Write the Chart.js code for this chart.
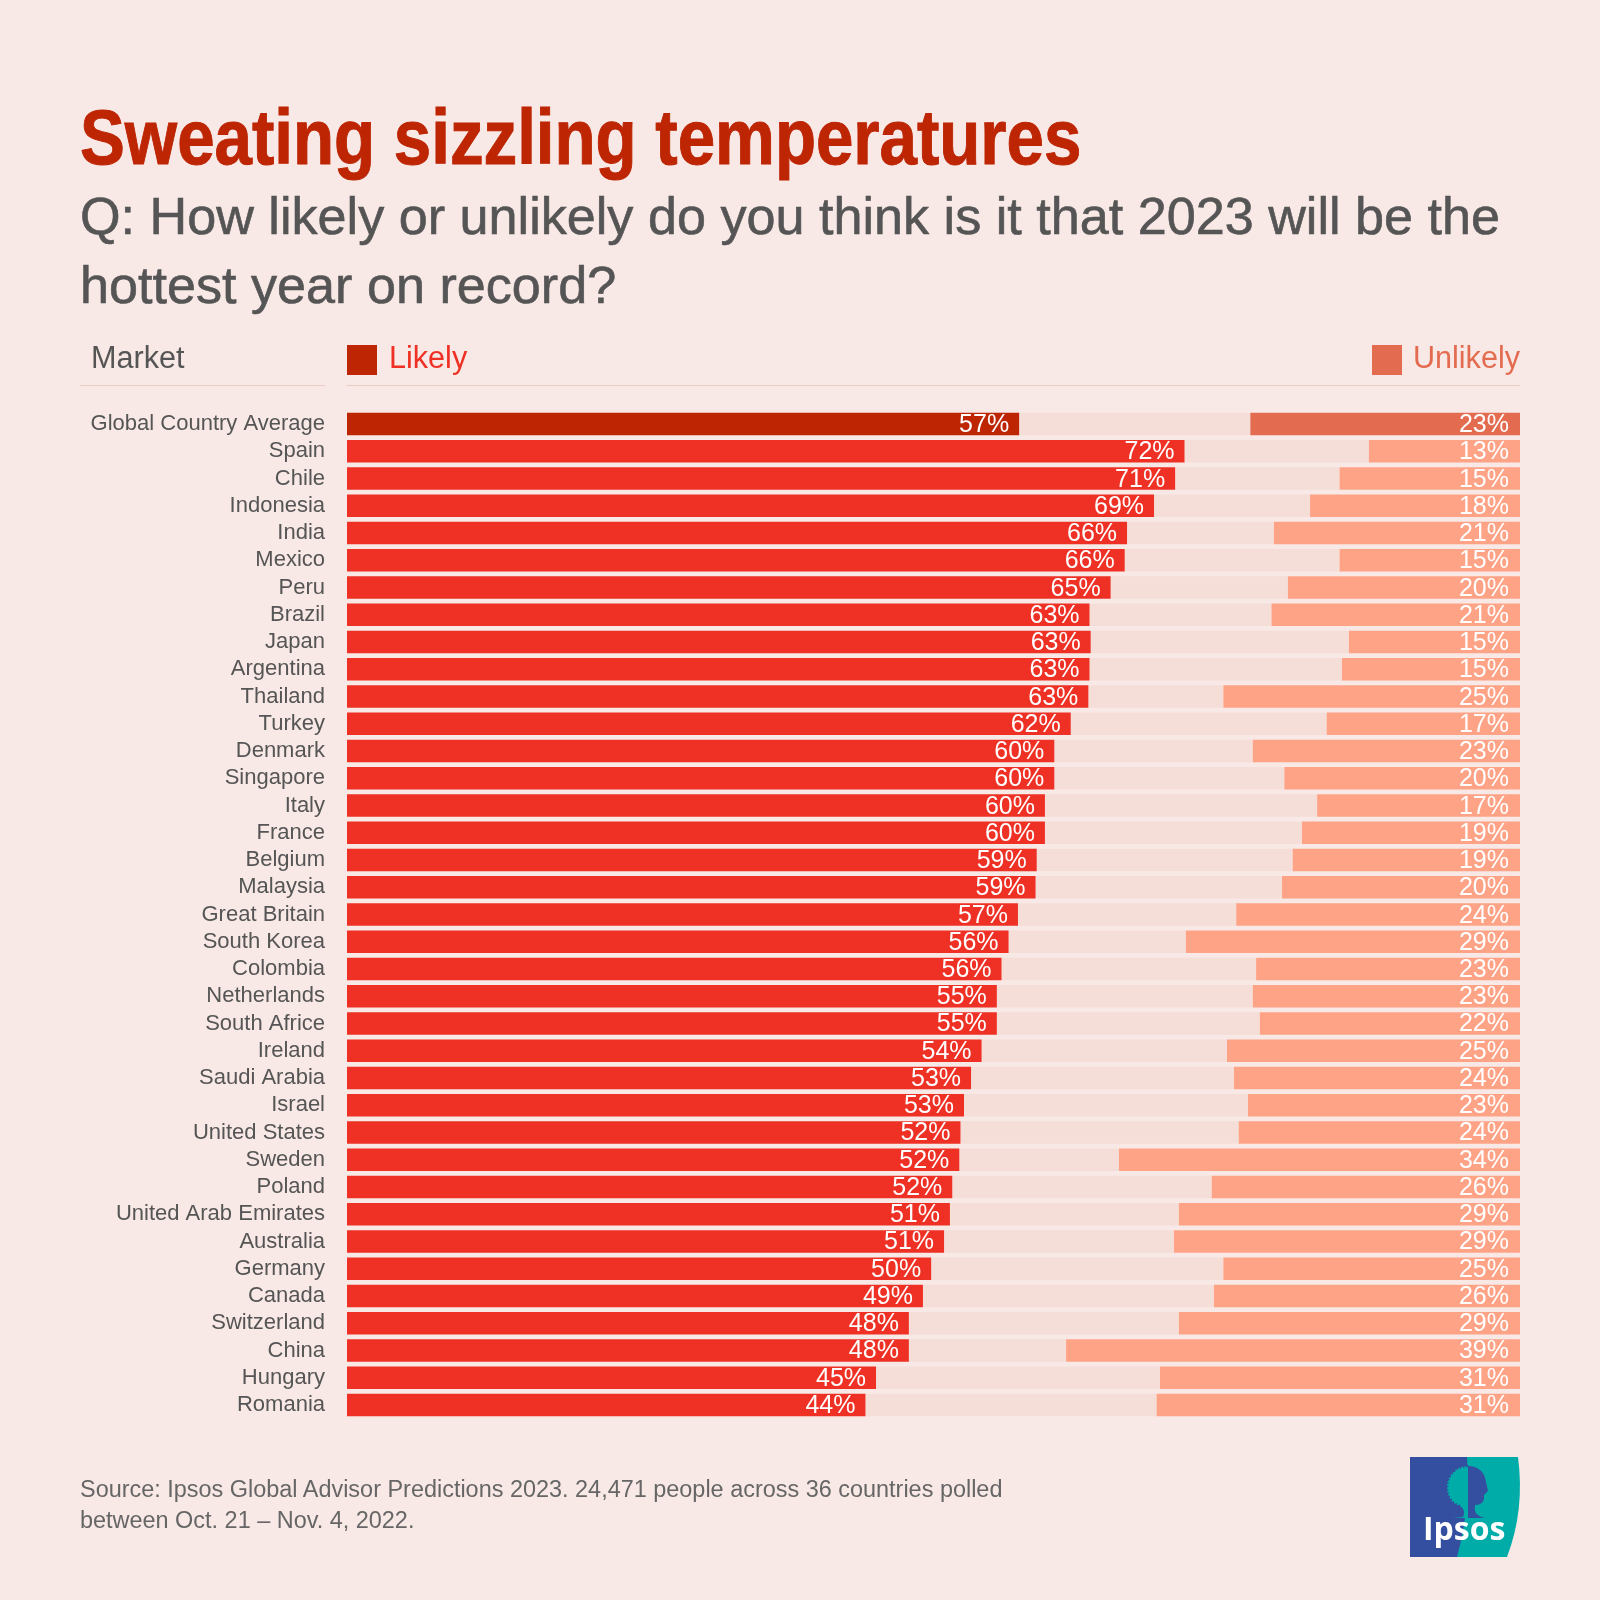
<!DOCTYPE html>
<html>
<head>
<meta charset="utf-8">
<title>Sweating sizzling temperatures</title>
<script src="https://cdn.jsdelivr.net/npm/chart.js@4"></script>
<style>
  html, body { margin: 0; padding: 0; background: #f8e9e6; }
  #page { position: relative; width: 1600px; height: 1600px; overflow: hidden; background: #f8e9e6; font-family: "Liberation Sans", sans-serif; }
  #page canvas { position: absolute; left: 0; top: 0; }
  .txt { position: absolute; white-space: nowrap; line-height: 1; }
  #title { left: 80px; top: 98px; font-weight: bold; font-size: 78px; color: #bd2503; transform: scaleX(0.862); transform-origin: left top; -webkit-text-stroke: 1px #bd2503; }
  .sub { left: 80px; font-size: 52.15px; color: #555; -webkit-text-stroke: 0.6px #555; }
  .head { font-size: 30.6px; top: 342px; }
  .rule { position: absolute; top: 385px; height: 1px; background: #edc9c4; }
  .sq { position: absolute; top: 345px; width: 30px; height: 30px; }
  .src { left: 80px; font-size: 23.45px; color: #666; }
  #logo { position: absolute; left: 1400px; top: 1450px; }
</style>
</head>
<body>
<div id="page">
  <canvas id="chart" width="1600" height="1600"></canvas>
  <div class="txt" id="title">Sweating sizzling temperatures</div>
  <div class="txt sub" style="top:190px">Q: How likely or unlikely do you think is it that 2023 will be the</div>
  <div class="txt sub" style="top:259px">hottest year on record?</div>
  <div class="txt head" style="left:91px;color:#555">Market</div>
  <div class="sq" style="left:347px;background:#bd2503"></div>
  <div class="txt head" style="left:389px;color:#ee3124">Likely</div>
  <div class="sq" style="left:1372px;background:#e36b50"></div>
  <div class="txt head" style="right:80px;color:#e36b50">Unlikely</div>
  <div class="rule" style="left:80px;width:245px"></div>
  <div class="rule" style="left:346px;width:1174px"></div>
  <div class="txt src" style="top:1478px">Source: Ipsos Global Advisor Predictions 2023. 24,471 people across 36 countries polled</div>
  <div class="txt src" style="top:1509px">between Oct. 21 – Nov. 4, 2022.</div>
  <svg id="logo" width="130" height="115" viewBox="1400 1450 130 115">
    <path d="M1410 1457H1518Q1525 1510 1507 1557H1410Z" fill="#00aca8"/>
    <path d="M1410 1457H1467Q1470 1510 1457 1557H1410Z" fill="#354fa0"/>
    <path d="M1468 1466C1454 1466 1447 1478 1447 1487C1447 1498 1453 1504 1460 1506C1464 1508 1465 1513 1463 1517L1453 1518H1468Z" fill="#00aca8"/>
    <path d="M1468 1466C1454 1466 1447 1478 1447 1487C1447 1498 1453 1504 1460 1506" fill="none" stroke="#354fa0" stroke-width="2.5" stroke-dasharray="1.5 2"/>
    <path d="M1468 1466C1478 1466 1485 1472 1486 1482L1488 1491L1484 1495C1485 1503 1480 1505 1475 1505C1474 1512 1476 1516 1485 1518H1468Z" fill="#354fa0"/>
    <text x="1423" y="1540" font-family="Open Sans" font-weight="700" font-size="32" fill="#fff">Ipsos</text>
  </svg>
</div>
<script>
const categories = ["Global Country Average","Spain","Chile","Indonesia","India","Mexico","Peru","Brazil","Japan","Argentina","Thailand","Turkey","Denmark","Singapore","Italy","France","Belgium","Malaysia","Great Britain","South Korea","Colombia","Netherlands","South Africe","Ireland","Saudi Arabia","Israel","United States","Sweden","Poland","United Arab Emirates","Australia","Germany","Canada","Switzerland","China","Hungary","Romania"];

// bar lengths
const likely = [57.3,71.4,70.6,68.8,66.5,66.3,65.1,63.3,63.4,63.3,63.2,61.7,60.3,60.3,59.5,59.5,58.8,58.7,57.2,56.4,55.8,55.4,55.4,54.1,53.2,52.6,52.3,52.2,51.6,51.4,50.9,49.8,49.1,47.9,47.9,45.1,44.2];
const neither = [19.7,15.7,14.0,13.3,12.5,18.3,15.1,15.5,22.0,21.5,11.5,21.8,16.9,19.6,23.2,21.9,21.8,21.0,18.6,15.1,21.7,21.8,22.4,20.9,22.4,24.2,23.7,13.6,22.1,19.5,19.6,24.9,24.8,23.0,13.4,24.2,24.8];
const unlikely = [23.0,12.9,15.4,17.9,21.0,15.4,19.8,21.2,14.6,15.2,25.3,16.5,22.8,20.1,17.3,18.6,19.4,20.3,24.2,28.5,22.5,22.8,22.2,25.0,24.4,23.2,24.0,34.2,26.3,29.1,29.5,25.3,26.1,29.1,38.7,30.7,31.0];

// printed percentages
const likelyLabels = [57,72,71,69,66,66,65,63,63,63,63,62,60,60,60,60,59,59,57,56,56,55,55,54,53,53,52,52,52,51,51,50,49,48,48,45,44];
const unlikelyLabels = [23,13,15,18,21,15,20,21,15,15,25,17,23,20,17,19,19,20,24,29,23,23,22,25,24,23,24,34,26,29,29,25,26,29,39,31,31];

// white value text inside the end of each bar
const barLabels = {
  id: "barLabels",
  afterDatasetsDraw(chart) {
    const ctx = chart.ctx;
    ctx.save();
    ctx.fillStyle = "#fff";
    ctx.font = '25px "Liberation Sans"';
    ctx.textAlign = "right";
    ctx.textBaseline = "alphabetic";
    [[0, likelyLabels, 10], [2, unlikelyLabels, 11]].forEach(([idx, labels, pad]) => {
      chart.getDatasetMeta(idx).data.forEach((bar, i) => {
        ctx.fillText(labels[i] + "%", bar.x - pad, bar.y + 8);
      });
    });
    ctx.restore();
  }
};

new Chart(document.getElementById("chart").getContext("2d"), {
  type: "bar",
  plugins: [barLabels],
  data: {
    labels: categories,
    datasets: [
      { label: "Likely", data: likely, backgroundColor: categories.map((c, i) => i === 0 ? "#bd2503" : "#ee3124") },
      { label: "Neither", data: neither, backgroundColor: "#f5ddd8" },
      { label: "Unlikely", data: unlikely, backgroundColor: categories.map((c, i) => i === 0 ? "#e36b50" : "#ffa387") },
    ],
  },
  options: {
    indexAxis: "y",
    responsive: false,
    animation: false,
    devicePixelRatio: 1,
    layout: { padding: { left: 0, right: 80, top: 410.4, bottom: 181.4 } },
    datasets: { bar: { categoryPercentage: 1, barPercentage: 0.83 } },
    plugins: { legend: { display: false }, title: { display: false }, tooltip: { enabled: false } },
    scales: {
      x: { stacked: true, min: 0, max: 100, display: false },
      y: {
        stacked: true,
        afterFit(scale) { scale.width = 347; },
        grid: { display: false, drawTicks: false },
        border: { display: false },
        ticks: {
          autoSkip: false,
          padding: 22,
          color: "#555",
          font: { family: "Liberation Sans", size: 22 },
        },
      },
    },
  },
});
</script>
</body>
</html>
